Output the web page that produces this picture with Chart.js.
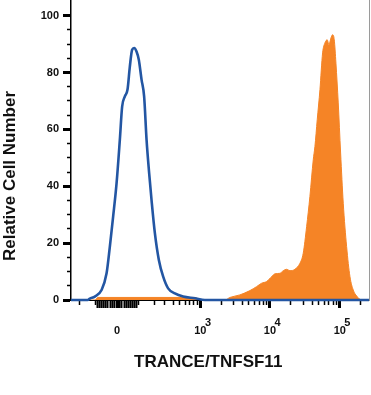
<!DOCTYPE html>
<html><head><meta charset="utf-8">
<script src="https://cdn.jsdelivr.net/npm/chart.js@4.4.0/dist/chart.umd.min.js"></script>
<style>html,body{margin:0;padding:0;background:#fff;}#wrap{width:371px;height:395px;position:relative;}</style>
</head><body><div id="wrap"><canvas id="c" width="371" height="395"></canvas></div>
<script>
// x values are display (logicle-like) units: asinh(v/W)/ln10
const blueX = [-0.661, -0.42, -0.39, -0.318, -0.222, -0.15, -0.103, -0.056, -0.007, 0.04, 0.073, 0.112, 0.15, 0.183, 0.216, 0.245, 0.279, 0.312, 0.351, 0.388, 0.423, 0.46, 0.494, 0.542, 0.599, 0.661, 0.732, 0.828, 0.947, 1.115, 1.258, 3.609];
const blueY = [0, 0, 0.5, 1.2, 3.5, 9.4, 18.8, 29.3, 41, 56.3, 68, 71.6, 74, 82, 88, 88.6, 87.4, 84.5, 77.5, 71.6, 56.3, 44.6, 35.2, 23.5, 14.1, 8.2, 4.1, 2.3, 1.2, 0.6, 0, 0];
const orangeX = [-0.661, -0.318, -0.275, 1.115, 1.187, 1.545, 1.617, 1.76, 1.903, 1.999, 2.071, 2.143, 2.214, 2.262, 2.333, 2.381, 2.429, 2.477, 2.548, 2.62, 2.667, 2.716, 2.763, 2.811, 2.835, 2.868, 2.907, 2.945, 2.978, 3.011, 3.036, 3.064, 3.089, 3.112, 3.136, 3.169, 3.203, 3.241, 3.289, 3.337, 3.384, 3.433, 3.504, 3.609];
const orangeY = [0, 0, 0.9, 0.9, 0, 0, 0.9, 1.8, 3.3, 4.7, 5.9, 6.5, 8.2, 9.2, 9.4, 10.3, 10.8, 10.3, 10.8, 12.9, 16.4, 25.8, 36.4, 49.3, 54, 63.4, 74, 86.9, 90.4, 91.5, 89.8, 92.1, 93.3, 91.5, 83.3, 69.3, 51.7, 34, 18.8, 8.2, 3.5, 1.4, 0, 0];

const xMajorTicks = [0, 1000, 10000, 100000];
const xMajorLabels = [['', '0'], ['     3', '10'], ['     4', '10'], ['     5', '10']];
const xNearZeroTicks = [-90, -80, -70, -60, -50, -40, -30, -20, -10, 10, 20, 30, 40, 50, 60, 70, 80, 90];
const xMinorTicks = [-200, -100, 100, 200, 300, 400, 500, 600, 700, 800, 900, 2000, 3000, 4000, 5000, 6000, 7000, 8000, 9000, 20000, 30000, 40000, 50000, 60000, 70000, 80000, 90000, 200000];
const yMajorTicks = [0, 20, 40, 60, 80, 100];
const yMajorLabels = ['0', '20', '40', '60', '80', '100'];
const yMinorTicks = [5, 10, 15, 25, 30, 35, 45, 50, 55, 65, 70, 75, 85, 90, 95];
const xRange = [-280, 262144];
const yMax = 105.5;
const xTitle = 'TRANCE/TNFSF11';
const yTitle = 'Relative Cell Number';

const W = 128.8;
const toDisplay = v => Math.asinh(v / W) / Math.LN10;
const xMin = toDisplay(xRange[0]), xMax = toDisplay(xRange[1]);

const zeroPad = s => { s.paddingLeft = 0; s.paddingRight = 0; s.paddingTop = 0; s.paddingBottom = 0; };
const FONT = 'Liberation Sans, Arial, Helvetica, sans-serif';

const xMajorSet = xMajorTicks.map((v, i) => ({ value: toDisplay(v), lbl: xMajorLabels[i], big: true }))
  .concat(xNearZeroTicks.map(v => ({ value: toDisplay(v), lbl: '', big: false })))
  .sort((a, b) => a.value - b.value);

new Chart(document.getElementById('c'), {
  type: 'line',
  data: {
    datasets: [
      { label: 'Isotype', data: blueX.map((x, i) => ({ x, y: blueY[i] })), borderColor: '#2356a3', borderWidth: 2.6, fill: false, pointRadius: 0, tension: 0.3, cubicInterpolationMode: 'monotone', clip: 3, xAxisID: 'x', yAxisID: 'y' },
      { label: 'TRANCE', data: orangeX.map((x, i) => ({ x, y: orangeY[i] })), borderColor: '#f58426', backgroundColor: '#f58426', borderWidth: 1, fill: 'origin', pointRadius: 0, tension: 0.25, cubicInterpolationMode: 'monotone', xAxisID: 'x', yAxisID: 'y' }
    ]
  },
  options: {
    responsive: false, animation: false, devicePixelRatio: 1,
    layout: { padding: { left: 0, right: 2, top: 0, bottom: 0 } },
    plugins: { legend: { display: false }, tooltip: { enabled: false } },
    scales: {
      x: {
        type: 'linear', position: 'bottom', weight: 1, min: xMin, max: xMax,
        afterBuildTicks: s => { s.ticks = xMajorSet.map(t => Object.assign({}, t)); },
        afterFit: s => { s.height = 95; zeroPad(s); },
        ticks: { autoSkip: false, maxRotation: 0, minRotation: 0, padding: 11.5, color: '#111',
          font: { family: FONT, size: 11, weight: 'bold', lineHeight: 0.68 },
          callback: (v, i, t) => t[i].lbl },
        grid: { drawOnChartArea: false, drawTicks: true, tickLength: 8, tickColor: '#000', tickWidth: c => (c.tick && c.tick.big) ? 3 : 2 },
        border: { display: true, color: '#000', width: 1 },
        title: { display: true, text: xTitle + '     ', color: '#111', font: { family: FONT, size: 17, weight: 'bold' }, padding: { top: 0, bottom: 22 } }
      },
      xm: {
        type: 'linear', position: 'bottom', weight: 0, min: xMin, max: xMax,
        afterBuildTicks: s => { s.ticks = xMinorTicks.map(v => ({ value: toDisplay(v) })); },
        afterFit: s => { s.height = 0; zeroPad(s); },
        ticks: { display: false, autoSkip: false },
        grid: { drawOnChartArea: false, drawTicks: true, tickLength: 5, tickColor: '#000', tickWidth: 1.5 },
        border: { display: false }
      },
      y: {
        type: 'linear', position: 'left', weight: 1, min: 0, max: yMax,
        afterBuildTicks: s => { s.ticks = yMajorTicks.map((v, i) => ({ value: v, lbl: yMajorLabels[i] })); },
        afterFit: s => { s.width = 71; zeroPad(s); },
        ticks: { autoSkip: false, padding: 4, color: '#111', font: { family: FONT, size: 11, weight: 'bold' }, callback: (v, i, t) => t[i].lbl },
        grid: { drawOnChartArea: false, drawTicks: true, tickLength: 8, tickColor: '#000', tickWidth: 3 },
        border: { display: true, color: '#000', width: 1.5 },
        title: { display: true, text: yTitle + '           ', color: '#111', font: { family: FONT, size: 17, weight: 'bold' }, padding: { top: 0.5, bottom: 0 } }
      },
      ym: {
        type: 'linear', position: 'left', weight: 0, min: 0, max: yMax,
        afterBuildTicks: s => { s.ticks = yMinorTicks.map(v => ({ value: v })); },
        afterFit: s => { s.width = 0; zeroPad(s); },
        ticks: { display: false, autoSkip: false },
        grid: { drawOnChartArea: false, drawTicks: true, tickLength: 4, tickColor: '#000', tickWidth: 1.5 },
        border: { display: false }
      },
      yr: {
        type: 'linear', position: 'right', min: 0, max: yMax,
        afterFit: s => { s.width = 0; zeroPad(s); },
        ticks: { display: false },
        grid: { display: false, drawTicks: false },
        border: { display: true, color: '#9a9a9a', width: 1 }
      }
    }
  }
});
</script></body></html>
